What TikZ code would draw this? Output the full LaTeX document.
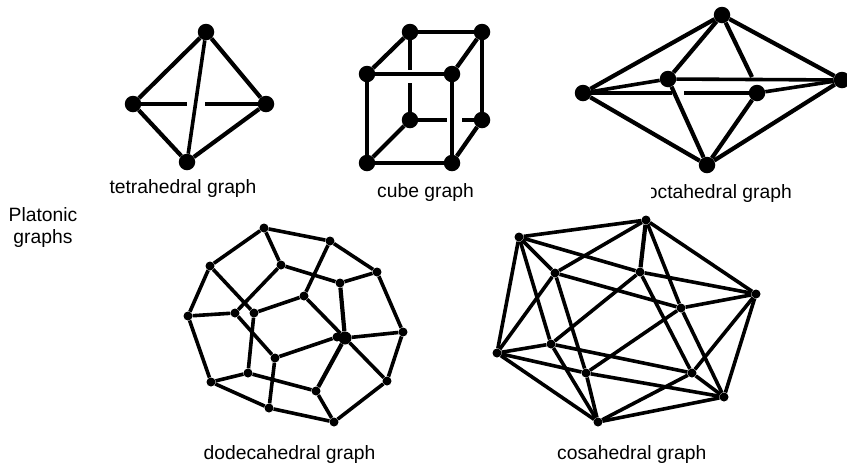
\documentclass[tikz,border=0pt]{standalone}
\usepackage{fontspec}
\setmainfont{Liberation Sans}
\tikzset{
  bigdot/.style={draw=none, circle, fill=black, inner sep=0pt, minimum size=16.5pt},
  smalldot/.style={draw=none, circle, fill=black, inner sep=0pt, minimum size=9pt},
  thick link/.style={line width=4.2pt},
  link/.style={line width=3.6pt},
  label/.style={inner sep=0pt, anchor=base, font=\fontsize{19.3}{22}\selectfont},
  note/.style={inner sep=0pt, align=center, font=\fontsize{19.3}{22}\selectfont}
}
\begin{document}
\begin{tikzpicture}[x=1pt, y=-1pt]
    \useasboundingbox (0,0) rectangle (847,467);

    % tetrahedron
    \node[bigdot] (t1) at (206,32) {};
    \node[bigdot] (t2) at (133,104) {};
    \node[bigdot] (t3) at (266,104) {};
    \node[bigdot] (t4) at (187,162) {};
    \coordinate (t5) at (187,104);
    \coordinate (t6) at (205,104);
    \draw[thick link] (t1) -- (t2);
    \draw[thick link] (t1) -- (t3);
    \draw[link] (t1) -- (t4);
    \draw[thick link] (t2) -- (t4);
    \draw[thick link] (t3) -- (t4);
    \draw[link] (t2) -- (t5);
    \draw[link] (t6) -- (t3);

    % cube
    \node[bigdot] (c1) at (410,32) {};
    \node[bigdot] (c2) at (482,32) {};
    \node[bigdot] (c3) at (367,74) {};
    \node[bigdot] (c4) at (452,74) {};
    \node[bigdot] (c5) at (410,120) {};
    \node[bigdot] (c6) at (482,120) {};
    \node[bigdot] (c7) at (367,163) {};
    \node[bigdot] (c8) at (452,163) {};
    \coordinate (c9) at (410,70);
    \coordinate (c10) at (410,83);
    \coordinate (c11) at (447,120);
    \coordinate (c12) at (462,120);
    \draw[link] (c1) -- (c2);
    \draw[thick link] (c1) -- (c3);
    \draw[thick link] (c2) -- (c4);
    \draw[link] (c3) -- (c4);
    \draw[thick link] (c2) -- (c6);
    \draw[thick link] (c3) -- (c7);
    \draw[link] (c4) -- (c8);
    \draw[link] (c7) -- (c8);
    \draw[thick link] (c6) -- (c8);
    \draw[thick link] (c5) -- (c7);
    \draw[link] (c1) -- (c9);
    \draw[link] (c10) -- (c5);
    \draw[link] (c5) -- (c11);
    \draw[link] (c12) -- (c6);

    % octahedron
    \node[bigdot] (o1) at (722,15) {};
    \node[bigdot] (o2) at (583,93) {};
    \node[bigdot] (o3) at (842,80) {};
    \node[bigdot] (o4) at (707,165) {};
    \node[bigdot] (o5) at (668,79) {};
    \node[bigdot] (o6) at (757,93) {};
    \coordinate (o7) at (672,93);
    \coordinate (o8) at (684,93);
    \coordinate (o9) at (752,77);
    \draw[thick link] (o1) -- (o2);
    \draw[thick link] (o1) -- (o3);
    \draw[thick link] (o1) -- (o5);
    \draw[thick link] (o1) -- (o9);
    \draw[thick link] (o2) -- (o4);
    \draw[thick link] (o3) -- (o4);
    \draw[thick link] (o5) -- (o4);
    \draw[thick link] (o6) -- (o4);
    \draw[link] (o2) -- (o5);
    \draw[link] (o5) -- (o3);
    \draw[link] (o6) -- (o3);
    \draw[thick link] (o2) -- (o7);
    \draw[thick link] (o8) -- (o6);

    % dodecahedron
    \node[smalldot] (d1) at (264,228) {};
    \node[smalldot] (d2) at (330,241) {};
    \node[smalldot] (d3) at (377,272) {};
    \node[smalldot] (d4) at (403,332) {};
    \node[smalldot] (d5) at (387,381) {};
    \node[smalldot] (d6) at (334,422) {};
    \node[smalldot] (d7) at (269,408) {};
    \node[smalldot] (d8) at (211,382) {};
    \node[smalldot] (d9) at (188,316) {};
    \node[smalldot] (d10) at (210,266) {};
    \node[smalldot] (d11) at (281,265) {};
    \node[smalldot] (d12) at (340,283) {};
    \node[smalldot] (d13) at (304,296) {};
    \node[smalldot] (d14) at (235,313) {};
    \node[smalldot] (d15) at (254,313) {};
    \node[bigdot, minimum size=13pt] (d16) at (345,338) {};
    \node[smalldot] (d17) at (337,337) {};
    \node[smalldot] (d18) at (275,358) {};
    \node[smalldot] (d19) at (248,373) {};
    \node[smalldot] (d20) at (316,391) {};
    \draw[link] (d1) -- (d2);
    \draw[link] (d2) -- (d3);
    \draw[link] (d3) -- (d4);
    \draw[link] (d4) -- (d5);
    \draw[link] (d5) -- (d6);
    \draw[link] (d6) -- (d7);
    \draw[link] (d7) -- (d8);
    \draw[link] (d8) -- (d9);
    \draw[link] (d9) -- (d10);
    \draw[link] (d10) -- (d1);
    \draw[link] (d1) -- (d11);
    \draw[link] (d11) -- (d12);
    \draw[link] (d12) -- (d3);
    \draw[link] (d2) -- (d13);
    \draw[link] (d13) -- (d15);
    \draw[link] (d15) -- (d19);
    \draw[link] (d19) -- (d8);
    \draw[link] (d19) -- (d20);
    \draw[link] (d20) -- (d6);
    \draw[link] (d7) -- (d18);
    \draw[link] (d18) -- (d17);
    \draw[link] (d18) -- (d14);
    \draw[link] (d14) -- (d9);
    \draw[link] (d14) -- (d11);
    \draw[link] (d10) -- (d15);
    \draw[thick link] (d12) -- (d16);
    \draw[link] (d13) -- (d16);
    \draw[link] (d16) -- (d4);
    \draw[link] (d16) -- (d5);
    \draw[thick link] (d16) -- (d20);

    % icosahedron
    \node[smalldot] (i1) at (519,237) {};
    \node[smalldot] (i2) at (646,220) {};
    \node[smalldot] (i3) at (756,294) {};
    \node[smalldot] (i4) at (724,397) {};
    \node[smalldot] (i5) at (598,422) {};
    \node[smalldot] (i6) at (497,353) {};
    \node[smalldot] (i7) at (555,273) {};
    \node[smalldot] (i8) at (640,272) {};
    \node[smalldot] (i9) at (681,308) {};
    \node[smalldot] (i10) at (692,373) {};
    \node[smalldot] (i11) at (586,373) {};
    \node[smalldot] (i12) at (551,344) {};
    \draw[link] (i1) -- (i2);
    \draw[link] (i2) -- (i3);
    \draw[link] (i3) -- (i4);
    \draw[link] (i4) -- (i5);
    \draw[link] (i5) -- (i6);
    \draw[link] (i6) -- (i1);
    \draw[link] (i1) -- (i7);
    \draw[link] (i1) -- (i8);
    \draw[link] (i1) -- (i12);
    \draw[link] (i2) -- (i7);
    \draw[thick link] (i2) -- (i8);
    \draw[link] (i2) -- (i9);
    \draw[link] (i3) -- (i8);
    \draw[link] (i3) -- (i9);
    \draw[link] (i3) -- (i10);
    \draw[link] (i4) -- (i9);
    \draw[link] (i4) -- (i10);
    \draw[link] (i4) -- (i11);
    \draw[link] (i5) -- (i10);
    \draw[link] (i5) -- (i11);
    \draw[link] (i5) -- (i12);
    \draw[link] (i6) -- (i7);
    \draw[link] (i6) -- (i11);
    \draw[link] (i6) -- (i12);
    \draw[link] (i7) -- (i9);
    \draw[link] (i7) -- (i11);
    \draw[link] (i8) -- (i10);
    \draw[link] (i8) -- (i12);
    \draw[link] (i9) -- (i11);
    \draw[link] (i10) -- (i12);

    % labels
    \node[label] (tetra) at (183,193) {tetrahedral graph};
    \node[label] (cube) at (425.5,197) {cube graph};
    \node[label, anchor=base east] (octa) at (792,198) {octahedral graph};
    \fill[white] (640,180) rectangle (651,202);
    \node[label] (dodeca) at (289.5,459) {dodecahedral graph};
    \node[label, anchor=base west] (icosa) at (557,459) {cosahedral graph};
    \node[note] (platonic) at (43,227.5) {Platonic\\graphs};
\end{tikzpicture}
\end{document}
